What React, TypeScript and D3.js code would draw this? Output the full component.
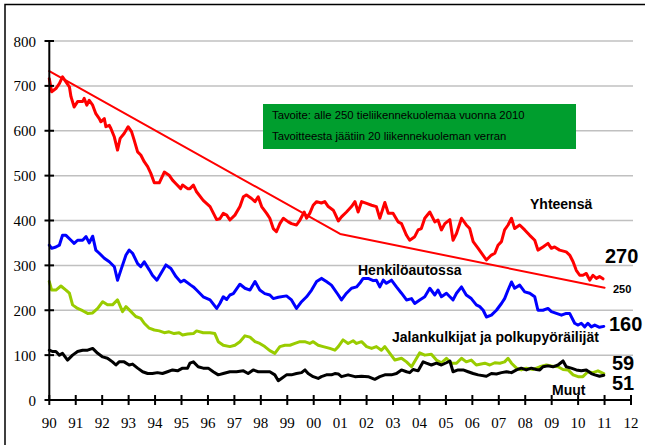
import React from "react";
import * as d3 from "d3";

// 12 kk liukuvat summat, [vuosi, kuolleet]
const yhteensa: [number, number][] = [
  [1990.0, 716], [1990.09, 687], [1990.25, 694], [1990.38, 705], [1990.5, 720], [1990.63, 709],
  [1990.76, 698], [1990.82, 676], [1990.94, 653], [1991.07, 665], [1991.26, 665], [1991.32, 672],
  [1991.42, 657], [1991.51, 668], [1991.64, 657], [1991.76, 638], [1991.89, 627], [1991.95, 620],
  [1992.08, 627], [1992.14, 609], [1992.27, 612], [1992.33, 605], [1992.46, 586], [1992.58, 557],
  [1992.68, 583], [1992.83, 594], [1992.98, 609], [1993.11, 598], [1993.21, 579], [1993.34, 553],
  [1993.46, 546], [1993.59, 531], [1993.72, 520], [1993.84, 505], [1993.97, 484], [1994.16, 484],
  [1994.35, 508], [1994.53, 501], [1994.66, 490], [1994.79, 482], [1994.97, 471], [1995.04, 479],
  [1995.23, 471], [1995.32, 471], [1995.45, 479], [1995.57, 464], [1995.82, 445], [1996.08, 431],
  [1996.33, 402], [1996.45, 404], [1996.58, 416], [1996.71, 412], [1996.83, 401], [1997.02, 412],
  [1997.21, 431], [1997.34, 453], [1997.46, 457], [1997.65, 449], [1997.78, 442], [1997.9, 453],
  [1998.03, 431], [1998.22, 416], [1998.34, 405], [1998.47, 382], [1998.59, 375], [1998.72, 393],
  [1998.85, 405], [1999.04, 397], [1999.16, 393], [1999.35, 390], [1999.48, 401], [1999.64, 419],
  [1999.73, 405], [1999.85, 416], [1999.98, 434], [2000.11, 442], [2000.29, 439], [2000.42, 442],
  [2000.55, 431], [2000.74, 423], [2000.8, 416], [2000.93, 399], [2001.05, 408], [2001.24, 419],
  [2001.43, 431], [2001.56, 442], [2001.68, 419], [2001.81, 442], [2002.0, 438], [2002.19, 434],
  [2002.37, 431], [2002.5, 405], [2002.69, 440], [2002.82, 416], [2003.0, 416], [2003.19, 397],
  [2003.32, 393], [2003.51, 367], [2003.63, 356], [2003.82, 364], [2003.95, 379], [2004.07, 382],
  [2004.2, 405], [2004.39, 419], [2004.58, 397], [2004.7, 401], [2004.83, 379], [2004.96, 393],
  [2005.15, 402], [2005.27, 356], [2005.4, 371], [2005.59, 405], [2005.77, 390], [2005.9, 382],
  [2006.03, 353], [2006.22, 338], [2006.53, 312], [2006.72, 323], [2006.85, 327], [2006.97, 345],
  [2007.1, 353], [2007.22, 379], [2007.35, 390], [2007.48, 405], [2007.6, 382], [2007.79, 390],
  [2007.98, 379], [2008.17, 367], [2008.36, 356], [2008.48, 334], [2008.67, 341], [2008.86, 349],
  [2008.99, 338], [2009.11, 341], [2009.3, 334], [2009.55, 330], [2009.68, 323], [2009.81, 308],
  [2009.93, 289], [2010.06, 278], [2010.18, 278], [2010.31, 282], [2010.44, 267], [2010.56, 278],
  [2010.69, 271], [2010.81, 275], [2010.94, 270],
];

const henkiloauto: [number, number][] = [
  [1990.0, 345], [1990.09, 338], [1990.25, 341], [1990.38, 345], [1990.5, 367], [1990.63, 367],
  [1990.82, 356], [1990.94, 349], [1991.07, 356], [1991.26, 356], [1991.39, 364], [1991.51, 350],
  [1991.64, 365], [1991.76, 334], [1991.89, 327], [1992.08, 316], [1992.27, 308], [1992.46, 297],
  [1992.58, 267], [1992.71, 290], [1992.9, 323], [1993.02, 334], [1993.15, 327], [1993.34, 304],
  [1993.46, 297], [1993.59, 308], [1993.78, 290], [1993.9, 278], [1994.07, 267], [1994.22, 282],
  [1994.41, 301], [1994.6, 293], [1994.79, 275], [1994.97, 263], [1995.1, 267], [1995.35, 256],
  [1995.45, 252], [1995.57, 245], [1995.82, 230], [1996.08, 223], [1996.33, 204], [1996.45, 215],
  [1996.58, 230], [1996.71, 224], [1996.83, 234], [1996.96, 237], [1997.21, 258], [1997.4, 249],
  [1997.59, 245], [1997.78, 264], [1997.96, 245], [1998.15, 237], [1998.34, 234], [1998.47, 226],
  [1998.66, 229], [1998.97, 232], [1999.16, 223], [1999.35, 204], [1999.54, 219], [1999.73, 230],
  [1999.92, 245], [2000.11, 264], [2000.29, 271], [2000.48, 264], [2000.67, 256], [2000.93, 234],
  [2001.05, 223], [2001.24, 238], [2001.43, 249], [2001.62, 252], [2001.74, 260], [2001.87, 271],
  [2002.06, 271], [2002.25, 266], [2002.37, 267], [2002.5, 252], [2002.63, 267], [2002.75, 260],
  [2002.94, 267], [2003.13, 252], [2003.32, 238], [2003.51, 223], [2003.7, 226], [2003.82, 215],
  [2004.01, 223], [2004.2, 230], [2004.39, 249], [2004.58, 234], [2004.7, 245], [2004.83, 230],
  [2005.02, 238], [2005.15, 230], [2005.27, 223], [2005.4, 238], [2005.59, 252], [2005.77, 234],
  [2005.96, 226], [2006.15, 212], [2006.28, 208], [2006.41, 200], [2006.53, 185], [2006.72, 189],
  [2006.91, 200], [2007.1, 215], [2007.22, 226], [2007.35, 245], [2007.48, 263], [2007.6, 249],
  [2007.79, 256], [2007.98, 241], [2008.17, 238], [2008.36, 230], [2008.48, 200], [2008.67, 200],
  [2008.86, 204], [2008.99, 197], [2009.18, 193], [2009.37, 189], [2009.55, 193], [2009.68, 193],
  [2009.87, 171], [2010.0, 167], [2010.12, 171], [2010.25, 163], [2010.37, 171], [2010.5, 163],
  [2010.63, 167], [2010.81, 162], [2010.97, 164],
];

const jalankulkijat: [number, number][] = [
  [1990.0, 264], [1990.09, 245], [1990.25, 245], [1990.44, 254], [1990.63, 245], [1990.76, 238],
  [1990.88, 212], [1991.07, 204], [1991.26, 199], [1991.45, 193], [1991.64, 194], [1991.83, 204],
  [1992.02, 219], [1992.2, 212], [1992.39, 212], [1992.58, 223], [1992.77, 197], [1992.9, 208],
  [1993.09, 197], [1993.27, 186], [1993.46, 182], [1993.59, 171], [1993.78, 160], [1993.97, 156],
  [1994.16, 154], [1994.35, 150], [1994.53, 152], [1994.72, 148], [1994.91, 150], [1995.04, 145],
  [1995.23, 147], [1995.45, 148], [1995.57, 154], [1995.82, 150], [1996.08, 150], [1996.26, 148],
  [1996.39, 130], [1996.58, 122], [1996.83, 119], [1997.02, 122], [1997.21, 130], [1997.4, 143],
  [1997.59, 140], [1997.78, 130], [1997.96, 126], [1998.15, 119], [1998.34, 110], [1998.53, 104],
  [1998.72, 119], [1998.91, 122], [1999.1, 122], [1999.29, 126], [1999.48, 130], [1999.66, 130],
  [1999.85, 126], [1999.98, 130], [2000.17, 122], [2000.36, 119], [2000.61, 115], [2000.8, 111],
  [2000.93, 119], [2001.11, 134], [2001.3, 126], [2001.49, 132], [2001.62, 126], [2001.81, 130],
  [2002.0, 119], [2002.19, 115], [2002.37, 119], [2002.56, 111], [2002.69, 119], [2002.88, 104],
  [2003.07, 89], [2003.32, 93], [2003.51, 85], [2003.7, 74], [2003.89, 93], [2004.01, 105],
  [2004.2, 100], [2004.45, 102], [2004.64, 89], [2004.83, 83], [2005.02, 93], [2005.21, 82],
  [2005.4, 82], [2005.59, 93], [2005.77, 85], [2005.96, 89], [2006.15, 78], [2006.47, 82],
  [2006.66, 78], [2006.85, 83], [2007.04, 82], [2007.22, 85], [2007.35, 93], [2007.48, 82],
  [2007.67, 71], [2007.85, 67], [2008.04, 71], [2008.3, 68], [2008.55, 74], [2008.8, 78],
  [2008.99, 76], [2009.24, 74], [2009.43, 68], [2009.62, 67], [2009.81, 56], [2010.0, 52],
  [2010.18, 52], [2010.37, 63], [2010.56, 61], [2010.75, 65], [2010.97, 59],
];

const muut: [number, number][] = [
  [1990.0, 111], [1990.13, 108], [1990.25, 108], [1990.38, 100], [1990.5, 104], [1990.69, 89],
  [1990.88, 100], [1991.07, 108], [1991.26, 111], [1991.45, 111], [1991.64, 115], [1991.83, 104],
  [1992.02, 96], [1992.2, 93], [1992.39, 85], [1992.52, 78], [1992.64, 85], [1992.83, 85],
  [1993.02, 78], [1993.15, 80], [1993.34, 71], [1993.53, 63], [1993.72, 59], [1993.9, 59],
  [1994.09, 61], [1994.28, 59], [1994.47, 63], [1994.66, 67], [1994.85, 65], [1995.04, 71],
  [1995.23, 71], [1995.32, 82], [1995.45, 85], [1995.63, 74], [1995.82, 71], [1996.01, 71],
  [1996.2, 63], [1996.39, 56], [1996.58, 59], [1996.83, 63], [1997.08, 63], [1997.34, 65],
  [1997.52, 59], [1997.71, 67], [1997.9, 63], [1998.09, 63], [1998.34, 63], [1998.53, 56],
  [1998.66, 43], [1998.78, 48], [1998.97, 56], [1999.16, 56], [1999.35, 59], [1999.54, 61],
  [1999.67, 67], [1999.79, 59], [1999.98, 52], [2000.17, 48], [2000.29, 52], [2000.48, 56],
  [2000.67, 56], [2000.8, 59], [2000.93, 58], [2001.05, 52], [2001.3, 56], [2001.56, 52],
  [2001.81, 53], [2002.06, 52], [2002.31, 46], [2002.5, 52], [2002.69, 56], [2002.94, 56],
  [2003.13, 59], [2003.32, 67], [2003.51, 63], [2003.63, 61], [2003.76, 68], [2003.95, 65],
  [2004.14, 85], [2004.26, 82], [2004.45, 78], [2004.64, 82], [2004.83, 78], [2005.02, 83],
  [2005.15, 87], [2005.27, 63], [2005.46, 67], [2005.65, 67], [2005.84, 63], [2006.03, 59],
  [2006.22, 56], [2006.53, 53], [2006.72, 59], [2006.91, 58], [2007.1, 61], [2007.29, 63],
  [2007.48, 61], [2007.67, 67], [2007.85, 71], [2008.04, 67], [2008.23, 71], [2008.42, 68],
  [2008.55, 67], [2008.67, 74], [2008.86, 76], [2009.05, 74], [2009.24, 78], [2009.43, 87],
  [2009.55, 74], [2009.74, 71], [2009.93, 67], [2010.12, 65], [2010.31, 67], [2010.5, 59],
  [2010.63, 56], [2010.81, 53], [2010.97, 55],
];

const tavoite: [number, number][] = [
  [1990, 733], [2001, 370], [2011, 250],
];

const yTicks = [0, 100, 200, 300, 400, 500, 600, 700, 800];
const xLabels = ["90", "91", "92", "93", "94", "95", "96", "97", "98", "99", "00",
  "01", "02", "03", "04", "05", "06", "07", "08", "09", "10", "11", "12"];

const boxLines = [
  "Tavoite: alle 250 tieliikennekuolemaa vuonna 2010",
  "Tavoitteesta jäätiin 20 liikennekuoleman verran",
];

const W = 645;
const H = 445;

export default function App() {
  const x = d3.scaleLinear().domain([1990, 2012]).range([49.3, 631]);
  const y = d3.scaleLinear().domain([0, 800]).range([400, 41]);
  const line = d3
    .line<[number, number]>()
    .x((d) => x(d[0]))
    .y((d) => y(d[1]));

  const series = [
    { data: tavoite, color: "#FF0000", w: 2 },
    { data: jalankulkijat, color: "#99CC00", w: 3 },
    { data: muut, color: "#000000", w: 3 },
    { data: henkiloauto, color: "#0000FF", w: 3 },
    { data: yhteensa, color: "#FF0000", w: 3 },
  ];

  const sans = { fontFamily: '"Liberation Sans", Arial, sans-serif' };
  const serif = { fontFamily: '"Liberation Serif", "Times New Roman", serif' };

  return (
    <svg
      width={W}
      height={H}
      style={{ position: "absolute", left: 0, top: 0, background: "#fff" }}
    >
      <rect x={5} y={4.5} width={W} height={H} fill="#fff" stroke="#000" strokeWidth={1.5} />

      {yTicks.filter((t) => t > 0).map((t) => (
        <line key={t} x1={x(1990)} x2={633} y1={y(t)} y2={y(t)} stroke="#C0C0C0" strokeWidth={1.5} />
      ))}

      <rect x={263} y={104} width={313} height={45} fill="#009E2E" />
      {boxLines.map((s, i) => (
        <text key={i} x={272} y={119 + i * 21} style={sans} fontSize={11.3} fill="#000">
          {s}
        </text>
      ))}

      {series.map((s, i) => (
        <path
          key={i}
          d={line(s.data) ?? ""}
          fill="none"
          stroke={s.color}
          strokeWidth={s.w}
          strokeLinejoin="round"
          strokeLinecap="round"
        />
      ))}

      {/* akselit */}
      <line x1={x(1990)} x2={x(1990)} y1={y(800)} y2={y(0)} stroke="#000" strokeWidth={2} />
      <line x1={x(1990)} x2={x(2012)} y1={y(0)} y2={y(0)} stroke="#000" strokeWidth={2} />
      {yTicks.map((t) => (
        <g key={t}>
          <line x1={44.5} x2={54} y1={y(t)} y2={y(t)} stroke="#000" strokeWidth={2} />
          <text x={36} y={y(t) + 5.5} textAnchor="end" style={serif} fontSize={15} fill="#000">
            {t}
          </text>
        </g>
      ))}
      {xLabels.map((lab, i) => (
        <g key={lab}>
          <line x1={x(1990 + i)} x2={x(1990 + i)} y1={395} y2={405} stroke="#000" strokeWidth={2} />
          <text x={x(1990 + i)} y={428} textAnchor="middle" style={serif} fontSize={15} fill="#000">
            {lab}
          </text>
        </g>
      ))}

      {/* sarjojen nimet ja loppuarvot */}
      <g style={sans} fontWeight="bold" fill="#000">
        <text x={530} y={209} fontSize={14}>Yhteensä</text>
        <text x={358} y={275} fontSize={14}>Henkilöautossa</text>
        <text x={392} y={342} fontSize={14}>Jalankulkijat ja polkupyöräilijät</text>
        <text x={552} y={394.5} fontSize={14}>Muut</text>
        <text x={605} y={263} fontSize={20}>270</text>
        <text x={613} y={293} fontSize={11}>250</text>
        <text x={609} y={331} fontSize={20}>160</text>
        <text x={612} y={369.5} fontSize={20}>59</text>
        <text x={612} y={390} fontSize={20}>51</text>
      </g>
    </svg>
  );
}
